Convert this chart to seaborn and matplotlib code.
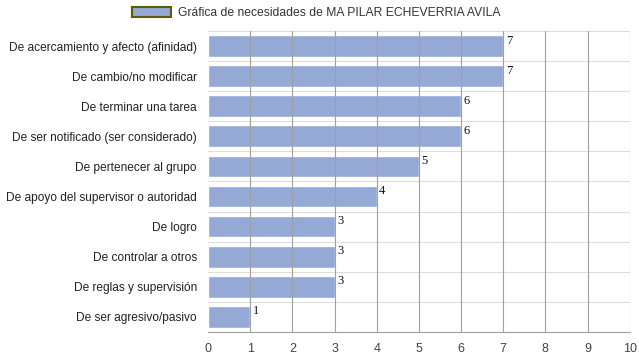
import matplotlib.pyplot as plt
import seaborn as sns
import pandas as pd
from matplotlib.patches import Patch

# Data
categorias = [
    "De acercamiento y afecto (afinidad)",
    "De cambio/no modificar",
    "De terminar una tarea",
    "De ser notificado (ser considerado)",
    "De pertenecer al grupo",
    "De apoyo del supervisor o autoridad",
    "De logro",
    "De controlar a otros",
    "De reglas y supervisión",
    "De ser agresivo/pasivo",
]
valores = [7, 7, 6, 6, 5, 4, 3, 3, 3, 1]
titulo_serie = "Gráfica de necesidades de MA PILAR ECHEVERRIA AVILA"

BAR = "#94a9d5"

sns.set_style("white")
plt.rcParams["font.family"] = ["Liberation Sans", "DejaVu Sans"]

df = pd.DataFrame({"Necesidad": categorias, "Valor": valores})

fig = plt.figure(figsize=(6.39, 3.6), dpi=100)
ax = fig.add_axes([0.3255, 0.078, 0.660, 0.836])

sns.barplot(data=df, y="Necesidad", x="Valor", orient="h", color=BAR,
            width=0.72, saturation=1, ax=ax, zorder=1)

ax.set_xlim(0, 10)
ax.set_ylim(len(categorias) - 0.5, -0.5)
ax.set_xticks(range(0, 11))
ax.set_xlabel("")
ax.set_ylabel("")

# vertical grid over bars
for xv in range(1, 11):
    ax.axvline(xv, color="#a0a0a0", lw=0.8, zorder=3)
# horizontal separators between rows
ax.set_yticks([i + 0.5 for i in range(-1, len(categorias))], minor=True)
ax.grid(axis="y", which="minor", color="#dddddd", lw=0.8, zorder=0)
ax.tick_params(axis="y", which="minor", length=5, color="#dddddd")
ax.tick_params(axis="y", which="major", length=0, labelsize=8.6, labelcolor="#222222", pad=8)
ax.tick_params(axis="x", length=5, color="#a0a0a0", labelsize=9, labelcolor="#444444", pad=3)

for s in ["top", "right", "left"]:
    ax.spines[s].set_visible(False)
ax.spines["bottom"].set_color("#a0a0a0")
ax.spines["bottom"].set_linewidth(0.8)

for i, v in enumerate(valores):
    ax.text(v + 0.06, i - 0.38, str(v), ha="left", va="top",
            fontsize=9, family="Liberation Serif", color="#111111", zorder=4)

handle = Patch(facecolor=BAR, edgecolor="#5c5c0a", linewidth=1.5)
fig.legend([handle], [titulo_serie], loc="upper center", bbox_to_anchor=(0.495, 1.01),
           frameon=False, fontsize=8.7, handlelength=3.2, handleheight=0.9,
           handletextpad=0.6, labelcolor="#333333")

fig.savefig("out.png", dpi=100)
